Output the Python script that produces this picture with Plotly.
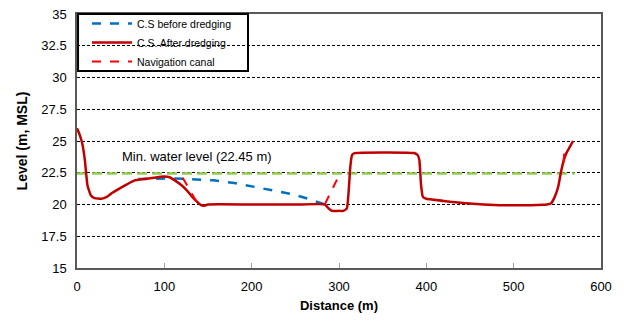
import plotly.graph_objects as go

# After dredging cross-section (red solid)
after_x = [0, 3, 6, 9, 12, 16, 20, 28, 34, 40, 46, 55, 66, 76, 88, 99, 106, 112, 120, 126, 132, 137, 142, 145, 150,
           200, 250, 284, 288, 292, 300, 305, 309, 311, 313, 315, 318, 350, 386, 390, 392, 394, 396, 400,
           446, 484, 520, 538, 543, 547, 551, 554, 557, 560, 564, 568]
after_y = [26.0, 25.5, 24.8, 23.5, 21.5, 20.7, 20.5, 20.45, 20.6, 20.9, 21.15, 21.5, 21.9, 22.0, 22.1, 22.2, 22.15, 21.9, 21.5, 21.1, 20.6, 20.25, 19.95, 19.9, 20.0,
           20.0, 20.0, 20.0, 19.7, 19.5, 19.5, 19.5, 19.7, 21.0, 23.0, 23.9, 24.05, 24.1, 24.05, 23.9, 23.5, 21.5, 20.6, 20.45,
           20.1, 19.95, 19.95, 20.0, 20.1, 20.6, 21.4, 22.5, 23.4, 24.0, 24.5, 25.0]

# Before dredging cross-section (blue dashed)
before_x = [70, 90, 110, 130, 156, 180, 202, 225, 247, 265, 275, 284]
before_y = [22.0, 22.05, 22.05, 22.0, 21.9, 21.7, 21.4, 21.1, 20.8, 20.45, 20.2, 20.0]

# Navigation canal (red dashed)
canal_x = [121, 137, None, 284, 298, None, 557, 558]
canal_y = [22.1, 20.2, None, 20.05, 22.0, None, 23.3, 24.1]

# Minimum water level
min_wl = 22.45
wl_x = [0, 570]

fig = go.Figure()
fig.add_trace(go.Scatter(x=wl_x, y=[min_wl, min_wl], mode="lines", showlegend=False,
                         line=dict(color="#92D050", width=2.5, dash="10px,5px")))
fig.add_trace(go.Scatter(x=before_x, y=before_y, mode="lines", name="C.S before dredging",
                         line=dict(color="#0070C0", width=2.5, dash="dash")))
fig.add_trace(go.Scatter(x=after_x, y=after_y, mode="lines", name="C.S. After dredging",
                         line=dict(color="#C00000", width=2.5, shape="spline", smoothing=0.4)))
fig.add_trace(go.Scatter(x=canal_x, y=canal_y, mode="lines", name="Navigation canal",
                         line=dict(color="#FF0000", width=2, dash="dash")))

font_fam = "Liberation Sans, Arial"

fig.add_annotation(x=137, y=23.75, text="Min. water level (22.45 m)", showarrow=False,
                   font=dict(family=font_fam, size=13, color="#000"))

# legend frame (transparent, as in the reference)
fig.add_shape(type="rect", xref="paper", yref="paper", x0=0.002, x1=171 / 524, y0=1 - 57 / 254, y1=1,
              line=dict(color="#000", width=2), fillcolor="rgba(0,0,0,0)", layer="above")

fig.update_layout(
    width=624, height=324,
    margin=dict(l=77, r=23, t=14, b=56, autoexpand=False),
    paper_bgcolor="white", plot_bgcolor="white",
    font=dict(family=font_fam, size=13, color="#000"),
    legend=dict(x=10 / 524, y=1 + 5 / 254, xanchor="left", yanchor="top", bgcolor="rgba(0,0,0,0)",
                borderwidth=0, font=dict(family=font_fam, size=10.5),
                tracegroupgap=0, itemwidth=40),
    showlegend=True,
)
fig.update_xaxes(range=[0, 600], dtick=100, tick0=0, showgrid=False, zeroline=False, automargin=False,
                 showline=True, linecolor="#595959", linewidth=1.5, mirror=True,
                 ticks="inside", ticklen=5, tickcolor="#a0a0a0",
                 ticklabelstandoff=6,
                 title=dict(text="<b>Distance (m)</b>", standoff=8, font=dict(family=font_fam, size=13)))
fig.update_yaxes(range=[15, 35], dtick=2.5, tick0=15, showgrid=True, gridcolor="#000", gridwidth=1,
                 griddash="3px,2px", zeroline=False, automargin=False,
                 showline=True, linecolor="#595959", linewidth=1.5, mirror=True,
                 ticks="", ticklabelstandoff=6,
                 title=dict(text="<b>Level (m, MSL)</b>", standoff=10, font=dict(family=font_fam, size=14)))

fig.write_html("out.html", config={"displayModeBar": False},
               post_script="document.body.style.margin='0';")
